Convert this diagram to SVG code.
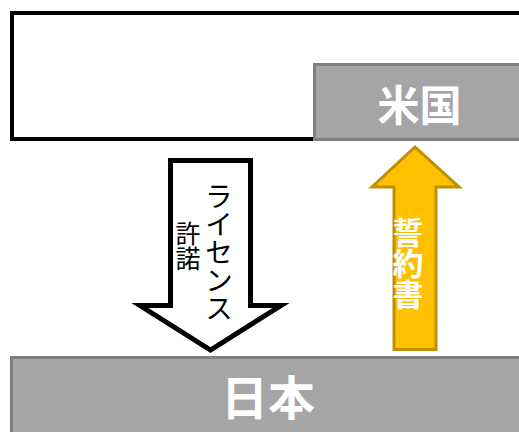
<svg xmlns="http://www.w3.org/2000/svg" width="519" height="432" viewBox="0 0 519 432">
<style>
.lbl{font-family:"Noto Sans CJK JP","Noto Sans",sans-serif;}
.box{fill:#a5a5a5;stroke:#7f7f7f;stroke-width:3;}
.wt{fill:#ffffff;font-weight:bold;text-anchor:middle;}
.vt{writing-mode:vertical-rl;text-anchor:middle;}
</style>
<rect width="519" height="432" fill="#ffffff"/>
<g id="frame">
<rect x="12" y="13" width="520" height="126" fill="#ffffff" stroke="#000000" stroke-width="4"/>
</g>
<g id="usa">
<rect class="box" x="314.5" y="64.5" width="215" height="75"/>
<text class="lbl wt" x="419.5" y="121" font-size="42">米国</text>
</g>
<g id="japan">
<rect class="box" x="11.5" y="357.5" width="520" height="90"/>
<text class="lbl wt" x="268" y="415" font-size="47">日本</text>
</g>
<g id="connectors">
<g id="license-arrow">
<polygon points="170.5,160.5 250.5,160.5 250.5,305.5 281,305.5 210.5,350 140,305.5 170.5,305.5" fill="#ffffff" stroke="#000000" stroke-width="5"/>
<text class="lbl vt" x="219" y="252" font-size="28" fill="#000000">ライセンス</text>
<text class="lbl vt" x="188" y="246" font-size="25" fill="#000000">許諾</text>
</g>
<g id="pledge-arrow">
<polygon points="394,349.5 436,349.5 436,187 459,187 415,147 372,187 394,187" fill="#ffc000" stroke="#bf9000" stroke-width="3"/>
<text class="lbl vt" x="408" y="263" font-size="31" fill="#ffffff" font-weight="bold">誓約書</text>
</g>
</g>
</svg>
